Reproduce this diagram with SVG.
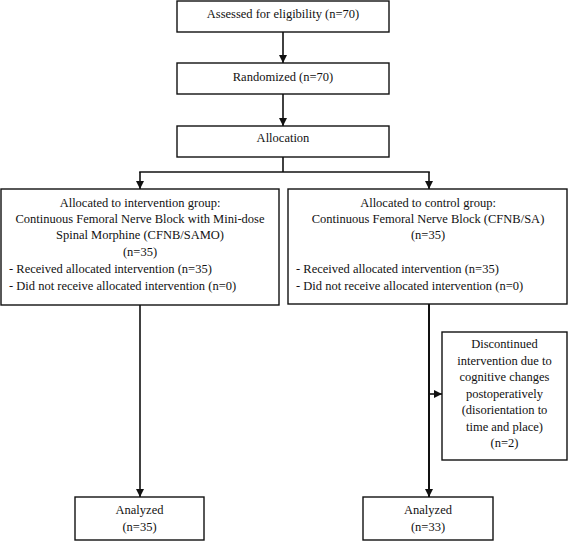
<svg xmlns="http://www.w3.org/2000/svg" width="568" height="541" viewBox="0 0 568 541">
<style>
.box{fill:#fff;stroke:#111;stroke-width:1.4}
.t{font-family:"Liberation Serif","Times New Roman",serif;font-size:12.5px;fill:#111}
.c{text-anchor:middle}
.ln{fill:none;stroke:#111;stroke-width:1.6}
</style>
<defs>
<marker id="ah" markerUnits="userSpaceOnUse" markerWidth="8" markerHeight="9" refX="8" refY="4" orient="auto" viewBox="0 0 8 8">
<path d="M0,0 L8,4 L0,8 Z" fill="#111"/>
</marker>
</defs>
<rect width="568" height="541" fill="#fff"/>
<g id="connectors">
<line class="ln" x1="283" y1="32" x2="283" y2="63" marker-end="url(#ah)"/>
<line class="ln" x1="283" y1="94" x2="283" y2="126" marker-end="url(#ah)"/>
<line class="ln" x1="283" y1="157" x2="283" y2="172"/>
<line class="ln" x1="139.2" y1="172" x2="429.8" y2="172"/>
<line class="ln" x1="140" y1="172" x2="140" y2="189" marker-end="url(#ah)"/>
<line class="ln" x1="429" y1="172" x2="429" y2="189" marker-end="url(#ah)"/>
<line class="ln" x1="140" y1="305" x2="140" y2="497" marker-end="url(#ah)"/>
<line class="ln" x1="429" y1="304" x2="429" y2="497" marker-end="url(#ah)" style="stroke-width:2"/>
<line class="ln" x1="429" y1="394" x2="442" y2="394" marker-end="url(#ah)"/>
</g>
<g id="assessed">
<rect class="box" x="177" y="1" width="212" height="31"/>
<text class="t c" x="283" y="18">Assessed for eligibility (n=70)</text>
</g>
<g id="randomized">
<rect class="box" x="177" y="63" width="212" height="31"/>
<text class="t c" x="283" y="81">Randomized (n=70)</text>
</g>
<g id="allocation">
<rect class="box" x="177" y="126" width="212" height="31"/>
<text class="t c" x="283" y="142">Allocation</text>
</g>
<g id="intervention">
<rect class="box" x="1" y="189" width="278" height="116"/>
<text class="t c" x="140" y="206.5">Allocated to intervention group:</text>
<text class="t c" x="140" y="222.5">Continuous Femoral Nerve Block with Mini-dose</text>
<text class="t c" x="140" y="239">Spinal Morphine (CFNB/SAMO)</text>
<text class="t c" x="140" y="255.5">(n=35)</text>
<text class="t" x="9" y="272.5">- Received allocated intervention (n=35)</text>
<text class="t" x="9" y="290">- Did not receive allocated intervention (n=0)</text>
</g>
<g id="control">
<rect class="box" x="288" y="189" width="279" height="115"/>
<text class="t c" x="428" y="206.5">Allocated to control group:</text>
<text class="t c" x="428" y="222.5">Continuous Femoral Nerve Block (CFNB/SA)</text>
<text class="t c" x="428" y="239">(n=35)</text>
<text class="t" x="296" y="272.5">- Received allocated intervention (n=35)</text>
<text class="t" x="296" y="290">- Did not receive allocated intervention (n=0)</text>
</g>
<g id="discontinued">
<rect class="box" x="442" y="332" width="125" height="128"/>
<text class="t c" x="504.5" y="347.5">Discontinued</text>
<text class="t c" x="504.5" y="364.5">intervention due to</text>
<text class="t c" x="504.5" y="381">cognitive changes</text>
<text class="t c" x="504.5" y="397.5">postoperatively</text>
<text class="t c" x="504.5" y="414">(disorientation to</text>
<text class="t c" x="504.5" y="430.5">time and place)</text>
<text class="t c" x="504.5" y="447">(n=2)</text>
</g>
<g id="analyzed-left">
<rect class="box" x="75" y="497" width="129" height="43"/>
<text class="t c" x="139.5" y="514">Analyzed</text>
<text class="t c" x="139.5" y="530.5">(n=35)</text>
</g>
<g id="analyzed-right">
<rect class="box" x="363" y="497" width="130" height="43"/>
<text class="t c" x="428" y="514">Analyzed</text>
<text class="t c" x="428" y="530.5">(n=33)</text>
</g>
</svg>
